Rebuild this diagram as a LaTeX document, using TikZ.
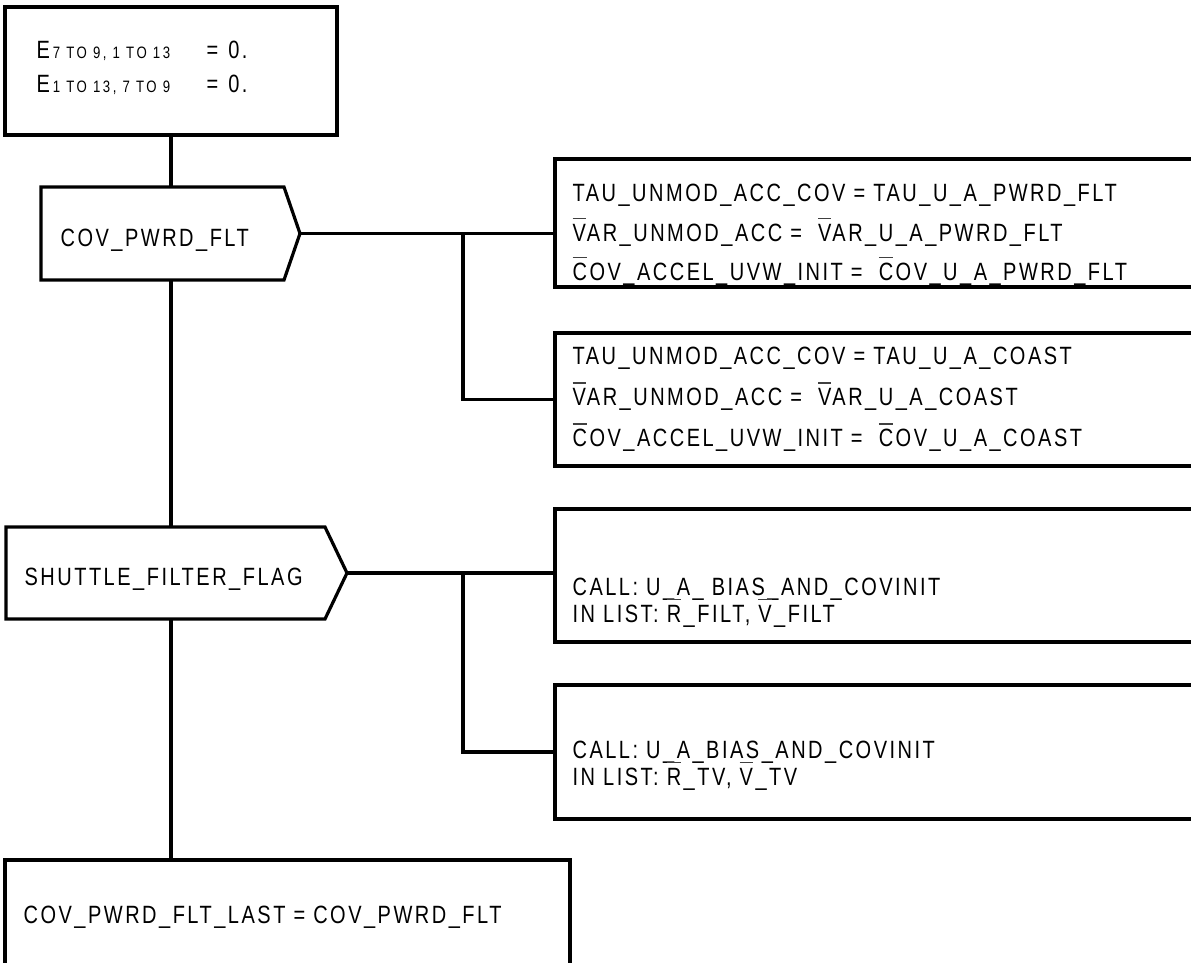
\documentclass[tikz,border=0pt]{standalone}
\usepackage{fontspec}
\setmainfont{Liberation Sans}[FakeStretch=0.8, LetterSpace=10]
\newlength\obw
\newcommand\obar[1]{\settowidth\obw{#1}\rlap{\color{black!75}\rule[0.88em]{\obw}{1.4pt}}#1}
\newcommand\subtxt[1]{{\fontsize{16.5}{16}\selectfont\addfontfeature{LetterSpace=15}#1}}
\begin{document}
\begin{tikzpicture}[x=1pt,y=-1pt,line width=3.2pt,line join=miter,
  box/.style={draw,line width=3.2pt,inner sep=0pt,outer sep=0pt,anchor=north west},
  txt/.style={anchor=base west,inner sep=0pt,font=\fontsize{25}{28}\selectfont},
  conn/.style={line width=3.2pt}]
\useasboundingbox (0,0) rectangle (1191,962);

% boxes
\node[box,minimum width=332pt,minimum height=128pt] (top) at (5,7) {};
\node[box,minimum width=660pt,minimum height=128pt] (r1) at (555,159) {};
\node[box,minimum width=660pt,minimum height=133pt] (r2) at (555,333) {};
\node[box,minimum width=660pt,minimum height=133pt] (r3) at (555,509) {};
\node[box,minimum width=660pt,minimum height=134pt] (r4) at (555,685) {};
\node[box,minimum width=565pt,minimum height=130pt] (bot) at (5,860) {};

% decision pentagons
\coordinate (p1top) at (171,187);
\coordinate (p1bot) at (171,280);
\coordinate (p1tip) at (300,233.5);
\draw (41,187) -- (284,187) -- (p1tip) -- (284,280) -- (41,280) -- cycle;
\coordinate (p2top) at (171,527);
\coordinate (p2bot) at (171,619);
\coordinate (p2tip) at (347,573);
\draw (6,527) -- (325,527) -- (p2tip) -- (325,619) -- (6,619) -- cycle;

% connectors
\draw[conn] (top.south) -- (p1top);
\draw[conn] (p1bot) -- (p2top);
\draw[conn] (p2bot) -- (p2bot |- bot.north);
\draw[conn] (p1tip) -- (p1tip -| r1.west);
\coordinate (j1) at (463,233.5);
\draw[conn] (j1) |- (r2.west);
\draw[conn] (p2tip) -- (p2tip -| r3.west);
\coordinate (j2) at (463,573);
\draw[conn] (j2) |- (r4.west);

% texts
\node[txt] (t1) at (35,58) {\makebox[170pt][l]{E\kern3pt\subtxt{7 TO 9, 1 TO 13}}=\hspace{10pt}0.};
\node[txt] (t2) at (35,92) {\makebox[170pt][l]{E\kern3pt\subtxt{1 TO 13, 7 TO 9}}=\hspace{10pt}0.};
\node[txt] (d1) at (59,246) {COV\_PWRD\_FLT};
\node[txt] (d2) at (23,585) {SHUTTLE\_FILTER\_FLAG};
\node[txt] (a1) at (571,201) {TAU\_UNMOD\_ACC\_COV = TAU\_U\_A\_PWRD\_FLT};
\node[txt] (a2) at (571,241) {\obar{V}AR\_UNMOD\_ACC = \ \obar{V}AR\_U\_A\_PWRD\_FLT};
\node[txt] (a3) at (571,280) {\obar{C}OV\_ACCEL\_UVW\_INIT = \ \obar{C}OV\_U\_A\_PWRD\_FLT};
\node[txt] (b1) at (571,364.5) {TAU\_UNMOD\_ACC\_COV = TAU\_U\_A\_COAST};
\node[txt] (b2) at (571,405.5) {\obar{V}AR\_UNMOD\_ACC = \ \obar{V}AR\_U\_A\_COAST};
\node[txt] (b3) at (571,446.5) {\obar{C}OV\_ACCEL\_UVW\_INIT = \ \obar{C}OV\_U\_A\_COAST};
\node[txt] (c1) at (571,595.5) {CALL: U\_A\_ BIAS\_AND\_COVINIT};
\node[txt] (c2) at (571,622) {IN LIST: \obar{R}\_FILT, \obar{V}\_FILT};
\node[txt] (e1) at (571,758.5) {CALL: U\_A\_BIAS\_AND\_COVINIT};
\node[txt] (e2) at (571,785) {IN LIST: \obar{R}\_TV, \obar{V}\_TV};
\node[txt] (f1) at (22,923.5) {COV\_PWRD\_FLT\_LAST = COV\_PWRD\_FLT};
\end{tikzpicture}
\end{document}
